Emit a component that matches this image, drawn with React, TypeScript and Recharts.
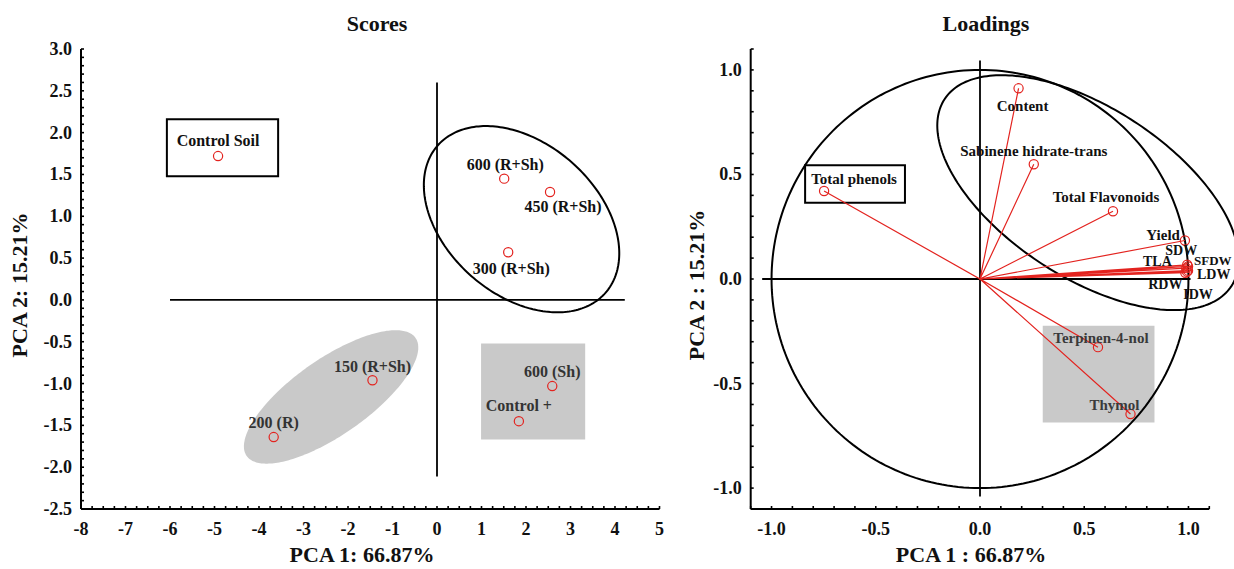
import React from 'react';
import { ScatterChart, Scatter, XAxis, YAxis } from 'recharts';

const FONT = '"Times New Roman", "Liberation Serif", Times, serif';
const RED = '#e3231f';
const GRAY = '#c9c9c9';

// ---------- Scores data ----------
const scoreNames = ['Control Soil', '600 (R+Sh)', '450 (R+Sh)', '300 (R+Sh)', '150 (R+Sh)', '200 (R)', '600 (Sh)', 'Control +'];
const scorePC1 = [-4.92, 1.51, 2.54, 1.6, -1.45, -3.67, 2.59, 1.84];
const scorePC2 = [1.72, 1.45, 1.29, 0.57, -0.96, -1.64, -1.03, -1.45];
const scoreXTickLabels = ['-8', '-7', '-6', '-5', '-4', '-3', '-2', '-1', '0', '1', '2', '3', '4', '5'];
const scoreYTickLabels = ['-2.5', '-2.0', '-1.5', '-1.0', '-0.5', '0.0', '0.5', '1.0', '1.5', '2.0', '2.5', '3.0'];

// annotation shapes (data units)
const scoreBlackEllipse = { c: [1.9, 0.965], u: [1.885, -0.881], v: [-1.126, -0.681] };
const scoreGrayEllipse = { c: [-2.38, -1.16], u: [1.897, 0.706], v: [0.49, -0.372] };
const scoreGrayRect = [0.99, 3.33, -0.52, -1.67];
const scoreControlBox = [-6.07, -3.57, 2.16, 1.48];
const scoreHLine = [-6.0, 4.22];
const scoreVLine = [2.6, -2.11];

// ---------- Loadings data ----------
const loadingNames = ['Total phenols', 'Content', 'Sabinene hidrate-trans', 'Total Flavonoids', 'Yield', 'SDW', 'SFDW', 'TLA', 'LDW', 'IDW', 'RDW', 'Terpinen-4-nol', 'Thymol'];
const loadingPC1 = [-0.748, 0.185, 0.258, 0.638, 0.983, 0.994, 0.998, 0.99, 0.998, 0.993, 0.985, 0.566, 0.722];
const loadingPC2 = [0.421, 0.912, 0.549, 0.324, 0.184, 0.068, 0.06, 0.052, 0.04, 0.035, 0.03, -0.326, -0.646];
const loadingTickLabels = ['-1.0', '-0.5', '0.0', '0.5', '1.0'];

const unitCircle = { c: [0, 0], u: [1, 0], v: [0, 1] };
const loadBlackEllipse = { c: [0.518, 0.413], u: [0.688, -0.447], v: [-0.222, -0.34] };
const loadGrayRect = [0.301, 0.837, -0.224, -0.686];
const loadPhenolBox = [-0.839, -0.36, 0.544, 0.365];
const loadHLine = [-1.045, 1.01];
const loadVLine = [1.045, -1.04];

// ---------- label layout (styling, not data) ----------
type LL = { dx: number; dy: number; anchor: 'start' | 'middle' | 'end'; color?: string; size?: number };
const scoreLabelLayout: Record<string, LL> = {
  'Control Soil': { dx: 0, dy: -10, anchor: 'middle' },
  '600 (R+Sh)': { dx: 1, dy: -9, anchor: 'middle' },
  '450 (R+Sh)': { dx: 13, dy: 20, anchor: 'middle' },
  '300 (R+Sh)': { dx: 3, dy: 22, anchor: 'middle' },
  '150 (R+Sh)': { dx: 0, dy: -8, anchor: 'middle', color: '#333' },
  '200 (R)': { dx: 0, dy: -9, anchor: 'middle', color: '#333' },
  '600 (Sh)': { dx: 0, dy: -9, anchor: 'middle', color: '#333' },
  'Control +': { dx: 0, dy: -10, anchor: 'middle', color: '#333' },
};
const loadingLabelLayout: Record<string, LL> = {
  'Total phenols': { dx: 30, dy: -7, anchor: 'middle' },
  Content: { dx: 4, dy: 23, anchor: 'middle' },
  'Sabinene hidrate-trans': { dx: 0, dy: -8, anchor: 'middle' },
  'Total Flavonoids': { dx: -7, dy: -9, anchor: 'middle' },
  Yield: { dx: -5, dy: -1, anchor: 'end' },
  SDW: { dx: -6, dy: -10, anchor: 'middle', size: 14 },
  SFDW: { dx: 6, dy: -1, anchor: 'start', size: 13 },
  TLA: { dx: -29, dy: -2, anchor: 'middle', size: 14 },
  LDW: { dx: 9, dy: 8, anchor: 'start', size: 14 },
  IDW: { dx: 11, dy: 27, anchor: 'middle', size: 14 },
  RDW: { dx: -20, dy: 16, anchor: 'middle', size: 14 },
  'Terpinen-4-nol': { dx: 3, dy: -4, anchor: 'middle', color: '#3a3a3a' },
  Thymol: { dx: -16, dy: -4, anchor: 'middle', color: '#3a3a3a' },
};

// ---------- helpers ----------
const scoreData = scoreNames.map((name, i) => ({ name, x: scorePC1[i], y: scorePC2[i] }));
const loadingData = loadingNames.map((name, i) => ({ name, x: loadingPC1[i], y: loadingPC2[i] }));
const vectorData = loadingData.flatMap((d) => [{ x: 0, y: 0 }, { x: d.x, y: d.y }]);

const ellipseAnchors = (e: { c: number[]; u: number[]; v: number[] }) => [
  { x: e.c[0], y: e.c[1] },
  { x: e.c[0] + e.u[0] / 2, y: e.c[1] + e.u[1] / 2 },
  { x: e.c[0] + e.v[0] / 2, y: e.c[1] + e.v[1] / 2 },
];
const rectCorners = (r: number[]) => [
  { x: r[0], y: r[2] },
  { x: r[1], y: r[2] },
  { x: r[1], y: r[3] },
  { x: r[0], y: r[3] },
];
const hSeg = (s: number[]) => [{ x: s[0], y: 0 }, { x: s[1], y: 0 }];
const vSeg = (s: number[]) => [{ x: 0, y: s[0] }, { x: 0, y: s[1] }];

const range = (a: number, b: number, div: number) => {
  const out: number[] = [];
  for (let i = a; i <= b; i++) out.push(i / div);
  return out;
};
const scoreXTicks = range(-32, 20, 4);
const scoreYTicks = range(-25, 30, 10);
const loadTicks = range(-11, 11, 10);

const noShape = () => <g />;

const ellipsePath = (style: any) => (props: any) => {
  const pts = props.points;
  if (!pts || pts.length < 3) return <g />;
  const [c, a, b] = pts;
  const ux = (a.x - c.x) * 2, uy = (a.y - c.y) * 2;
  const vx = (b.x - c.x) * 2, vy = (b.y - c.y) * 2;
  let d = '';
  const N = 240;
  for (let i = 0; i <= N; i++) {
    const t = (i / N) * Math.PI * 2;
    const x = c.x + ux * Math.cos(t) + vx * Math.sin(t);
    const y = c.y + uy * Math.cos(t) + vy * Math.sin(t);
    d += (i ? 'L' : 'M') + x.toFixed(2) + ',' + y.toFixed(2);
  }
  return <path d={d + 'Z'} {...style} />;
};
const polyPath = (style: any, closed: boolean) => (props: any) => {
  const pts = props.points;
  if (!pts || !pts.length) return <g />;
  const d = pts.map((p: any, i: number) => (i ? 'L' : 'M') + p.x.toFixed(2) + ',' + p.y.toFixed(2)).join('') + (closed ? 'Z' : '');
  return <path d={d} {...style} />;
};

const makePointShape = (layout: Record<string, LL>, fontSize: number) => (props: any) => {
  const { cx, cy, payload } = props;
  const l = layout[payload.name] || { dx: 0, dy: -9, anchor: 'middle' };
  return (
    <g>
      <circle cx={cx} cy={cy} r={4.6} fill="none" stroke={RED} strokeWidth={1.2} />
      <text x={cx + l.dx} y={cy + l.dy} textAnchor={l.anchor} fontFamily={FONT} fontWeight="bold" fontSize={l.size || fontSize} fill={l.color || '#111'}>
        {payload.name}
      </text>
    </g>
  );
};

const near = (a: number, b: number) => Math.abs(a - b) < 1e-6;
const findLabel = (v: number, labels: string[]) => labels.find((s) => near(parseFloat(s), v));

const TICK_LEN = 3;
const makeTick = (side: 'bottom' | 'top' | 'left' | 'right', labels: string[]) => (props: any) => {
  const { x, y, payload } = props;
  const v = payload.value;
  const lab = side === 'bottom' || side === 'left' ? findLabel(v, labels) : undefined;
  let line;
  if (side === 'bottom') line = <line x1={x} x2={x} y1={y} y2={y - TICK_LEN} stroke="#000" strokeWidth={1.6} />;
  else if (side === 'top') line = <line x1={x} x2={x} y1={y} y2={y + TICK_LEN} stroke="#000" strokeWidth={1.6} />;
  else if (side === 'left') line = <line x1={x} x2={x + TICK_LEN} y1={y} y2={y} stroke="#000" strokeWidth={1.6} />;
  else line = <line x1={x} x2={x - TICK_LEN} y1={y} y2={y} stroke="#000" strokeWidth={1.6} />;
  return (
    <g>
      {line}
      {lab !== undefined && side === 'bottom' && (
        <text x={x} y={y + 26} textAnchor="middle" fontFamily={FONT} fontWeight="bold" fontSize={18} fill="#111">
          {lab}
        </text>
      )}
      {lab !== undefined && side === 'left' && (
        <text x={x - 9} y={y + 6} textAnchor="end" fontFamily={FONT} fontWeight="bold" fontSize={18} fill="#111">
          {lab}
        </text>
      )}
    </g>
  );
};

const FRAME = { stroke: '#000', strokeWidth: 2 };

function ScoresChart() {
  const xd: [number, number] = [-8, 5];
  const yd: [number, number] = [-2.5, 3];
  return (
    <ScatterChart width={680} height={569} margin={{ top: 49, right: 20.5, bottom: 20, left: 0 }}>
      <XAxis dataKey="x" type="number" domain={xd} ticks={scoreXTicks} interval={0} height={40} tickSize={0} tickMargin={0} tickLine={false} axisLine={FRAME} tick={makeTick('bottom', scoreXTickLabels)} />
      <XAxis xAxisId="top" orientation="top" dataKey="x" type="number" domain={xd} allowDataOverflow ticks={scoreXTicks} interval={0} height={0} tickSize={0} tickMargin={0} tickLine={false} axisLine={FRAME} tick={makeTick('top', [])} />
      <YAxis dataKey="y" type="number" domain={yd} ticks={scoreYTicks} interval={0} width={81} tickSize={0} tickMargin={0} tickLine={false} axisLine={FRAME} tick={makeTick('left', scoreYTickLabels)} />
      <YAxis yAxisId="right" orientation="right" dataKey="y" type="number" domain={yd} allowDataOverflow ticks={scoreYTicks} interval={0} width={0} tickSize={0} tickMargin={0} tickLine={false} axisLine={FRAME} tick={makeTick('right', [])} />

      <Scatter data={ellipseAnchors(scoreGrayEllipse)} shape={noShape} line={ellipsePath({ fill: GRAY, stroke: 'none' })} isAnimationActive={false} />
      <Scatter data={rectCorners(scoreGrayRect)} shape={noShape} line={polyPath({ fill: GRAY, stroke: 'none' }, true)} isAnimationActive={false} />
      <Scatter data={rectCorners(scoreControlBox)} shape={noShape} line={polyPath({ fill: 'none', stroke: '#000', strokeWidth: 2 }, true)} isAnimationActive={false} />
      <Scatter data={hSeg(scoreHLine)} shape={noShape} line={polyPath({ fill: 'none', stroke: '#000', strokeWidth: 1.8 }, false)} isAnimationActive={false} />
      <Scatter data={vSeg(scoreVLine)} shape={noShape} line={polyPath({ fill: 'none', stroke: '#000', strokeWidth: 1.8 }, false)} isAnimationActive={false} />
      <Scatter data={ellipseAnchors(scoreBlackEllipse)} shape={noShape} line={ellipsePath({ fill: 'none', stroke: '#000', strokeWidth: 2 })} isAnimationActive={false} />
      <Scatter data={scoreData} shape={makePointShape(scoreLabelLayout, 16)} isAnimationActive={false} />
    </ScatterChart>
  );
}

function LoadingsChart() {
  const d: [number, number] = [-1.1, 1.1];
  return (
    <ScatterChart width={554} height={569} margin={{ top: 49, right: 24.7, bottom: 20, left: 0 }} style={{ overflow: 'visible' }}>
      <XAxis dataKey="x" type="number" domain={d} ticks={loadTicks} interval={0} height={40} tickSize={0} tickMargin={0} tickLine={false} axisLine={FRAME} tick={makeTick('bottom', loadingTickLabels)} />
      <XAxis xAxisId="top" orientation="top" dataKey="x" type="number" domain={d} allowDataOverflow ticks={loadTicks} interval={0} height={0} tickSize={0} tickMargin={0} tickLine={false} axisLine={FRAME} tick={makeTick('top', [])} />
      <YAxis dataKey="y" type="number" domain={d} ticks={loadTicks} interval={0} width={70.7} tickSize={0} tickMargin={0} tickLine={false} axisLine={FRAME} tick={makeTick('left', loadingTickLabels)} />
      <YAxis yAxisId="right" orientation="right" dataKey="y" type="number" domain={d} allowDataOverflow ticks={loadTicks} interval={0} width={0} tickSize={0} tickMargin={0} tickLine={false} axisLine={FRAME} tick={makeTick('right', [])} />

      <Scatter data={rectCorners(loadGrayRect)} shape={noShape} line={polyPath({ fill: GRAY, stroke: 'none' }, true)} isAnimationActive={false} />
      <Scatter data={rectCorners(loadPhenolBox)} shape={noShape} line={polyPath({ fill: 'none', stroke: '#000', strokeWidth: 2 }, true)} isAnimationActive={false} />
      <Scatter data={hSeg(loadHLine)} shape={noShape} line={polyPath({ fill: 'none', stroke: '#000', strokeWidth: 1.8 }, false)} isAnimationActive={false} />
      <Scatter data={vSeg(loadVLine)} shape={noShape} line={polyPath({ fill: 'none', stroke: '#000', strokeWidth: 1.8 }, false)} isAnimationActive={false} />
      <Scatter data={ellipseAnchors(unitCircle)} shape={noShape} line={ellipsePath({ fill: 'none', stroke: '#000', strokeWidth: 2 })} isAnimationActive={false} />
      <Scatter data={ellipseAnchors(loadBlackEllipse)} shape={noShape} line={ellipsePath({ fill: 'none', stroke: '#000', strokeWidth: 2 })} isAnimationActive={false} />
      <Scatter data={vectorData} shape={noShape} line={polyPath({ fill: 'none', stroke: RED, strokeWidth: 1.2 }, false)} isAnimationActive={false} />
      <Scatter data={loadingData} shape={makePointShape(loadingLabelLayout, 15)} isAnimationActive={false} />
    </ScatterChart>
  );
}

export default function App() {
  const T = { fontFamily: FONT, fontWeight: 'bold' as const, fill: '#111' };
  return (
    <div style={{ position: 'absolute', left: 0, top: 0, width: 1234, height: 569, background: '#fff', overflow: 'hidden' }}>
      <div style={{ position: 'absolute', left: 0, top: 0 }}>
        <ScoresChart />
      </div>
      <div style={{ position: 'absolute', left: 680, top: 0 }}>
        <LoadingsChart />
      </div>
      <svg width={1234} height={569} style={{ position: 'absolute', left: 0, top: 0, pointerEvents: 'none' }}>
        <text x={377} y={31} textAnchor="middle" fontSize={22} {...T}>Scores</text>
        <text x={986} y={31} textAnchor="middle" fontSize={22} {...T}>Loadings</text>
        <text x={362} y={562} textAnchor="middle" fontSize={22} {...T}>PCA 1: 66.87%</text>
        <text x={971} y={562} textAnchor="middle" fontSize={22} {...T}>PCA 1 : 66.87%</text>
        <text x={0} y={0} transform="translate(27,285) rotate(-90)" textAnchor="middle" fontSize={22} {...T}>PCA 2: 15.21%</text>
        <text x={0} y={0} transform="translate(704,285) rotate(-90)" textAnchor="middle" fontSize={22} {...T}>PCA 2 : 15.21%</text>
      </svg>
    </div>
  );
}
